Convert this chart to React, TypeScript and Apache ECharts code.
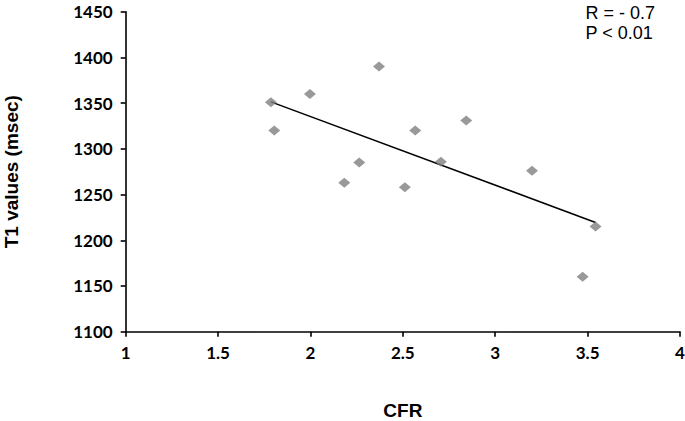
import React, { useEffect, useRef } from "react";
import * as echarts from "echarts";

const cfrValues = [1.786, 1.804, 1.997, 2.371, 2.264, 2.183, 2.511, 2.567, 2.706, 2.843, 3.199, 3.473, 3.543];
const t1Values = [1351, 1320, 1360, 1390, 1285, 1263, 1258, 1320, 1286, 1331, 1276, 1160, 1215];
const statLines = ["R = - 0.7", "P < 0.01"];
const xTitle = "CFR";
const yTitle = "T1 values (msec)";

function regressionLine(xs: number[], ys: number[]) {
  const n = xs.length;
  const mx = xs.reduce((a, b) => a + b, 0) / n;
  const my = ys.reduce((a, b) => a + b, 0) / n;
  let sxy = 0;
  let sxx = 0;
  for (let i = 0; i < n; i++) {
    sxy += (xs[i] - mx) * (ys[i] - my);
    sxx += (xs[i] - mx) * (xs[i] - mx);
  }
  const slope = sxy / sxx;
  const x0 = Math.min(...xs);
  const x1 = Math.max(...xs);
  return [
    [x0, my + slope * (x0 - mx)],
    [x1, my + slope * (x1 - mx)],
  ];
}

export default function App() {
  const ref = useRef<HTMLDivElement>(null);
  useEffect(() => {
    if (!ref.current) return;
    const chart = echarts.init(ref.current, undefined, { renderer: "svg" });
    const points = cfrValues.map((x, i) => [x, t1Values[i]]);
    const tickFont = { fontFamily: "Lato", fontWeight: "bold" as const, fontSize: 17, color: "#000" };
    chart.setOption({
      animation: false,
      backgroundColor: "#fff",
      grid: { left: 125.7, right: 5, top: 11.7, bottom: 89.3, containLabel: false, outerBoundsMode: "none" },
      xAxis: {
        type: "value",
        min: 1,
        max: 4,
        interval: 0.5,
        name: xTitle,
        nameLocation: "middle",
        nameGap: 69,
        nameTextStyle: { fontFamily: "Liberation Sans", fontWeight: "bold", fontSize: 19, color: "#000" },
        axisLine: { show: true, onZero: false, lineStyle: { color: "#000", width: 1.6 } },
        axisTick: { show: true, inside: false, length: 5, lineStyle: { color: "#000", width: 1.6 } },
        axisLabel: { ...tickFont, margin: 12, showMaxLabel: true, showMinLabel: true, formatter: (v: number) => String(v) },
        splitLine: { show: false },
      },
      yAxis: {
        type: "value",
        min: 1100,
        max: 1450,
        interval: 50,
        name: yTitle,
        nameLocation: "middle",
        nameGap: 105,
        nameRotate: 90,
        nameTextStyle: { fontFamily: "Liberation Sans", fontWeight: "bold", fontSize: 19, color: "#000" },
        axisLine: { show: true, onZero: false, lineStyle: { color: "#000", width: 1.6 } },
        axisTick: { show: true, inside: false, length: 5, lineStyle: { color: "#000", width: 1.6 } },
        axisLabel: { ...tickFont, margin: 13, formatter: (v: number) => String(v) },
        splitLine: { show: false },
      },
      graphic: [
        {
          type: "text",
          right: 30,
          top: 3,
          style: {
            text: statLines.join("\n"),
            font: "18px 'Liberation Sans'",
            lineHeight: 20,
            fill: "#000",
          },
        },
      ],
      series: [
        {
          type: "line",
          data: regressionLine(cfrValues, t1Values),
          symbol: "none",
          lineStyle: { color: "#000", width: 1.5 },
          z: 1,
        },
        {
          type: "scatter",
          data: points,
          symbol: "diamond",
          symbolSize: [12, 10],
          itemStyle: { color: "#7f7f7f" },
          z: 2,
        },
      ],
    });
    return () => chart.dispose();
  }, []);
  return <div ref={ref} style={{ width: 685, height: 421, position: "absolute", left: 0, top: 0 }} />;
}
